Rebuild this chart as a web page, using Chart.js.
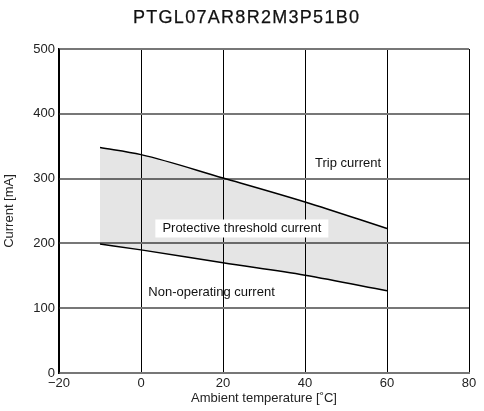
<!DOCTYPE html>
<html>
<head>
<meta charset="utf-8">
<script src="https://cdn.jsdelivr.net/npm/chart.js@4/dist/chart.umd.min.js"></script>
<style>
  html, body { margin: 0; padding: 0; background: #fff; }
  #wrap { width: 484px; height: 411px; }
</style>
</head>
<body>
<div id="wrap"><canvas id="c"></canvas></div>
<script>
// temperatures (°C) and currents (mA)
const temps = [-10, 0, 20, 40, 60];
const tripCurrent = [348, 337, 301, 264, 223];
const nonOperatingCurrent = [199, 190, 170, 151, 127];
const xTicks = [-20, 0, 20, 40, 60, 80];
const yTicks = [0, 100, 200, 300, 400, 500];

// text labels placed in data coordinates
const notes = [
  { text: "Trip current", x: 50.5, y: 324, box: false },
  { text: "Protective threshold current", x: 24.6, y: 223, box: true },
  { text: "Non-operating current", x: 17.2, y: 124, box: false }
];

const chartTitle = "PTGL07AR8R2M3P51B0";
const font = "'Liberation Sans', Arial, sans-serif";

// title drawn by hand so the letter spacing can match
const titlePlugin = {
  id: "wideTitle",
  afterDraw(chart) {
    const ctx = chart.ctx;
    ctx.save();
    ctx.font = "18px " + font;
    const plain = ctx.measureText(chartTitle).width;
    const spacing = Math.max(0, (226 - plain) / (chartTitle.length - 1));
    ctx.letterSpacing = spacing + "px";
    const w = ctx.measureText(chartTitle).width - spacing;
    ctx.fillStyle = "#111";
    ctx.strokeStyle = "#111";
    ctx.lineWidth = 0.25;
    ctx.textAlign = "left";
    ctx.textBaseline = "middle";
    ctx.fillText(chartTitle, 246 - w / 2, 18);
    ctx.strokeText(chartTitle, 246 - w / 2, 18);
    ctx.restore();
  }
};

const notesPlugin = {
  id: "notes",
  afterDatasetsDraw(chart) {
    const ctx = chart.ctx;
    const xs = chart.scales.x, ys = chart.scales.y;
    ctx.save();
    ctx.font = "13px " + font;
    ctx.textAlign = "center";
    ctx.textBaseline = "middle";
    notes.forEach(n => {
      const px = xs.getPixelForValue(n.x);
      const py = ys.getPixelForValue(n.y);
      if (n.box) {
        const w = ctx.measureText(n.text).width;
        ctx.fillStyle = "#fff";
        ctx.fillRect(px - w / 2 - 7, py - 9, w + 14, 18);
      }
      ctx.fillStyle = "#111";
      ctx.fillText(n.text, px, py);
    });
    ctx.restore();
  }
};

new Chart(document.getElementById("c"), {
  type: "line",
  data: {
    datasets: [
      {
        label: "Trip current",
        data: temps.map((t, i) => ({ x: t, y: tripCurrent[i] })),
        borderColor: "#000",
        borderWidth: 1.5,
        backgroundColor: "rgba(0,0,0,0.1)",
        fill: "+1",
        pointRadius: 0,
        cubicInterpolationMode: "monotone"
      },
      {
        label: "Non-operating current",
        data: temps.map((t, i) => ({ x: t, y: nonOperatingCurrent[i] })),
        borderColor: "#000",
        borderWidth: 1.5,
        fill: false,
        pointRadius: 0,
        cubicInterpolationMode: "monotone"
      }
    ]
  },
  options: {
    responsive: true,
    maintainAspectRatio: false,
    animation: false,
    layout: { padding: { left: 0, right: 15, top: 49, bottom: 0 } },
    plugins: {
      legend: { display: false },
      tooltip: { enabled: false },
      title: { display: false }
    },
    scales: {
      x: {
        type: "linear",
        min: -20,
        max: 80,
        afterBuildTicks: s => { s.ticks = xTicks.map(v => ({ value: v })); },
        afterFit: s => { s.height = 38; },
        grid: { color: "#000", lineWidth: 1, drawTicks: false },
        border: { color: "#777", width: 2 },
        ticks: {
          color: "#222",
          padding: 3,
          font: { family: font, size: 13 },
          callback: v => String(v).replace("-", "\u2212")
        },
        title: {
          display: true,
          text: "Ambient temperature [\u02DAC]",
          color: "#222",
          font: { family: font, size: 13 },
          padding: { top: 0, bottom: 5 }
        }
      },
      y: {
        min: 0,
        max: 500,
        afterBuildTicks: s => { s.ticks = yTicks.map(v => ({ value: v })); },
        afterFit: s => { s.width = 59; },
        grid: { color: "#777", lineWidth: 2, drawTicks: false },
        border: { color: "#000", width: 1.5 },
        ticks: {
          color: "#222",
          padding: 4,
          font: { family: font, size: 13 }
        },
        title: {
          display: true,
          text: "Current [mA]",
          color: "#222",
          font: { family: font, size: 13 },
          padding: { top: 2, bottom: 0 }
        }
      }
    }
  },
  plugins: [notesPlugin, titlePlugin]
});
</script>
</body>
</html>
